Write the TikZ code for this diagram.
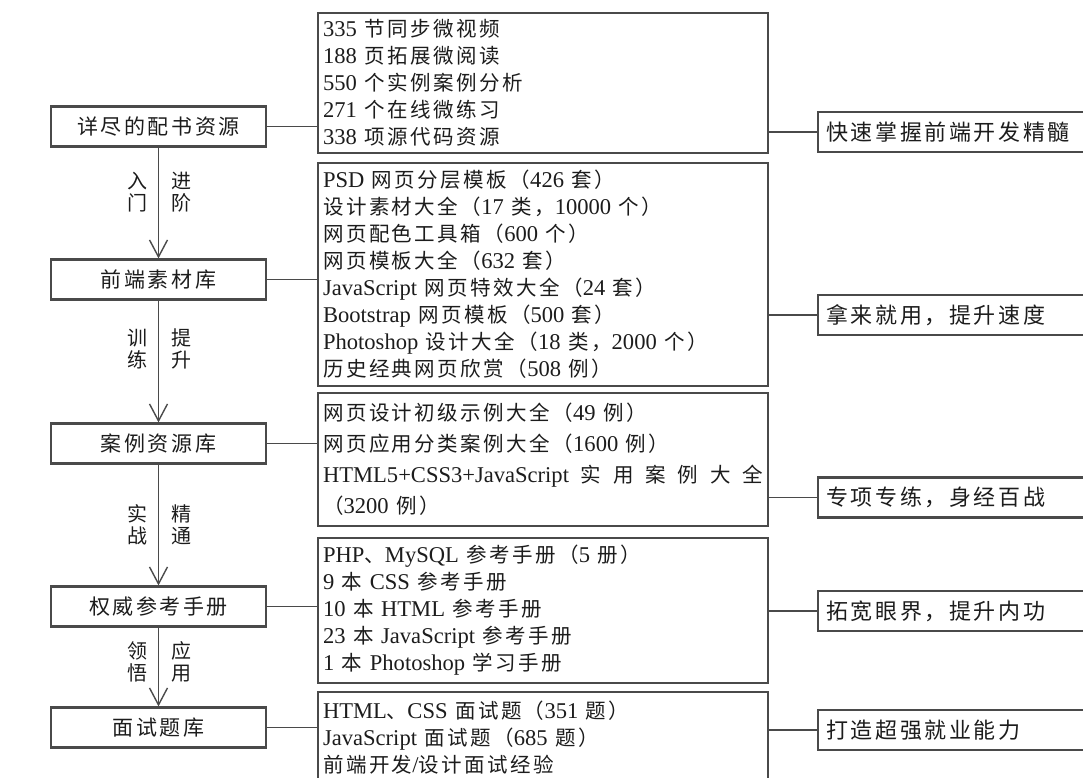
\documentclass[tikz,border=0pt]{standalone}
\usepackage{fontspec}
\setmainfont{Liberation Serif}[Scale=1.1]
\newfontfamily\cjk[LetterSpace=12]{Noto Sans CJK SC}
\usetikzlibrary{arrows.meta, positioning}
\definecolor{cline}{HTML}{4A4A4A}
\definecolor{ctext}{HTML}{1C1C1C}
% switch to the CJK face for Chinese characters
\XeTeXinterchartokenstate=1
\newXeTeXintercharclass\zhclass
\newcount\zhcode
\zhcode="4E00
\loop\ifnum\zhcode<"A000
  \XeTeXcharclass\zhcode=\zhclass
  \advance\zhcode by 1
\repeat
\XeTeXcharclass"3001=\zhclass
\XeTeXcharclass"FF08=\zhclass
\XeTeXcharclass"FF09=\zhclass
\XeTeXcharclass"FF0C=\zhclass
\XeTeXinterchartoks 0 \zhclass={\cjk}
\XeTeXinterchartoks 4095 \zhclass={\cjk}
\XeTeXinterchartoks \zhclass 0={\rmfamily}
\XeTeXinterchartoks \zhclass 4095={\rmfamily}
\tikzset{
  every picture/.style={line width=1.4pt},
  box/.style={draw=cline, line width=2.2pt, text=ctext, inner sep=4pt},
  link/.style={draw=cline, line width=1.4pt},
  arr/.style={link, -{Straight Barb[length=17pt, width=18pt]}},
  tag/.style={text=ctext, inner sep=0pt, align=center, font=\fontsize{20}{22}\selectfont},
}

\begin{document}
\begin{tikzpicture}[x=1pt, y=-1pt,
  lbox/.style={box, minimum width=215pt, minimum height=40pt, font=\fontsize{21}{24}\selectfont},
  mbox/.style={box, anchor=north west, text width=440pt, minimum height=#1, inner xsep=5pt, align=left, font=\fontsize{20.5}{27}\selectfont},
  rbox/.style={box, anchor=west, text width=268pt, minimum height=40pt, inner xsep=8pt, align=left, font=\fontsize{22}{24}\selectfont}]
  \useasboundingbox (0,0) rectangle (1083,778);
  \clip (0,0) rectangle (1083,778);
  % left column
  \node[lbox] (l1) at (158.5,126.5) {详尽的配书资源};
  \node[lbox] (l2) at (158.5,279.5) {前端素材库};
  \node[lbox] (l3) at (158.5,443.5) {案例资源库};
  \node[lbox] (l4) at (158.5,606.5) {权威参考手册};
  \node[lbox] (l5) at (158.5,727.5) {面试题库};
  % middle column
  \node[mbox=140pt] (m1) at (317,12) {335 节同步微视频\\188 页拓展微阅读\\550 个实例案例分析\\271 个在线微练习\\338 项源代码资源};
  \node[mbox=223pt] (m2) at (317,162) {PSD 网页分层模板（426 套）\\设计素材大全（17 类，10000 个）\\网页配色工具箱（600 个）\\网页模板大全（632 套）\\JavaScript 网页特效大全（24 套）\\Bootstrap 网页模板（500 套）\\Photoshop 设计大全（18 类，2000 个）\\历史经典网页欣赏（508 例）};
  \node[mbox=133pt, font=\fontsize{20.5}{31}\selectfont] (m3) at (317,392) {网页设计初级示例大全（49 例）\\网页应用分类案例大全（1600 例）\\HTML5+CSS3+JavaScript\hfill 实\hfill 用\hfill 案\hfill 例\hfill 大\hfill 全\\（3200 例）};
  \node[mbox=145pt] (m4) at (317,537) {PHP、MySQL 参考手册（5 册）\\9 本 CSS 参考手册\\10 本 HTML 参考手册\\23 本 JavaScript 参考手册\\1 本 Photoshop 学习手册};
  \node[mbox=90pt] (m5) at (317,691) {HTML、CSS 面试题（351 题）\\JavaScript 面试题（685 题）\\前端开发/设计面试经验};
  % right column
  \node[rbox] (r1) at (817,132) {快速掌握前端开发精髓};
  \node[rbox] (r2) at (817,315) {拿来就用，提升速度};
  \node[rbox] (r3) at (817,497.5) {专项专练，身经百战};
  \node[rbox] (r4) at (817,611) {拓宽眼界，提升内功};
  \node[rbox] (r5) at (817,730) {打造超强就业能力};
  % steps
  \draw[arr] (l1) -- node[tag, pos=.4, left=10pt] {入\\门} node[tag, pos=.4, right=12pt] {进\\阶} (l2);
  \draw[arr] (l2) -- node[tag, pos=.4, left=10pt] {训\\练} node[tag, pos=.4, right=12pt] {提\\升} (l3);
  \draw[arr] (l3) -- node[tag, pos=.5, left=10pt] {实\\战} node[tag, pos=.5, right=12pt] {精\\通} (l4);
  \draw[arr] (l4) -- node[tag, pos=.44, left=10pt] {领\\悟} node[tag, pos=.44, right=12pt] {应\\用} (l5);
  \foreach \i in {1,...,5} {
    \draw[link] (l\i.east) -- (l\i.east -| m\i.west);
    \draw[link] (r\i.west -| m\i.east) -- (r\i.west);
  }
\end{tikzpicture}
\end{document}
